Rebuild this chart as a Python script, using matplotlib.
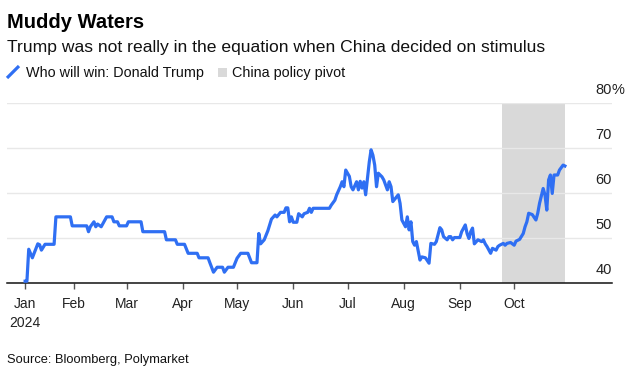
import matplotlib.pyplot as plt
import matplotlib.dates as mdates
import pandas as pd
from matplotlib.lines import Line2D
from matplotlib.patches import Rectangle

plt.rcParams['font.family'] = ['Liberation Sans', 'DejaVu Sans']

# Polymarket odds, "Who will win: Donald Trump" (%), by day offset from 2024-01-01
day_offset = [4, 5, 6, 8, 11, 12, 13, 15, 20, 21, 29, 30, 38, 39, 40, 42, 43, 44, 46, 49,
              52, 53, 55, 56, 60, 61, 68, 69, 81, 82, 87, 88, 92, 94, 99, 100, 105, 106, 108, 110,
              113, 114, 116, 119, 121, 123, 127, 129, 132, 133, 134, 136, 138, 140, 142, 143, 145, 147, 148, 149,
              150, 151, 152, 154, 155, 157, 158, 160, 161, 162, 163, 172, 173, 175, 176, 178, 179, 180, 181, 183,
              184, 185, 187, 188, 189, 190, 191, 192, 194, 195, 196, 197, 198, 199, 201, 202, 204, 205, 206, 207,
              210, 211, 212, 214, 215, 216, 217, 218, 219, 220, 222, 223, 225, 227, 228, 230, 231, 233, 234, 235,
              237, 238, 239, 240, 241, 244, 245, 247, 248, 249, 250, 251, 252, 254, 256, 257, 258, 259, 261, 262,
              264, 265, 266, 268, 269, 270, 272, 274, 275, 277, 279, 280, 281, 282, 284, 286, 287, 288, 290, 291,
              292, 293, 294, 295, 296, 298, 299, 301, 302]
trump = [40.4, 40.4, 47.5, 45.6, 48.7, 48.5, 47.3, 48.6, 48.6, 54.7, 54.7, 52.7, 52.7, 51.4, 52.5, 53.6, 52.5, 53.1, 52.5, 54.7,
         54.7, 53.6, 53.6, 52.7, 52.7, 53.6, 53.6, 51.4, 51.4, 49.6, 49.6, 48.6, 48.6, 46.6, 46.6, 45.6, 45.6, 44.5, 42.4, 43.5,
         43.5, 42.4, 43.5, 43.5, 45.5, 46.6, 46.6, 44.5, 44.5, 51.0, 48.7, 49.6, 51.6, 54.2, 55.1, 54.7, 55.7, 55.7, 56.7, 56.7,
         53.6, 54.7, 53.5, 53.5, 55.4, 54.7, 55.4, 55.7, 56.6, 55.7, 56.6, 56.6, 57.3, 58.4, 59.6, 61.4, 62.5, 61.4, 65.1, 63.7,
         61.4, 60.7, 62.5, 60.7, 62.6, 61.1, 62.5, 59.6, 66.9, 69.6, 68.4, 66.2, 61.4, 64.4, 63.6, 62.9, 60.7, 62.5, 61.4, 58.1,
         59.6, 57.7, 54.0, 52.5, 54.7, 51.8, 53.6, 49.2, 48.4, 49.2, 45.1, 45.8, 45.6, 44.4, 48.8, 48.6, 49.2, 52.3, 51.8, 50.3,
         49.6, 50.3, 50.3, 49.6, 50.1, 50.1, 51.4, 52.9, 51.0, 49.9, 51.4, 52.2, 48.7, 49.6, 49.2, 49.6, 48.7, 48.1, 46.6, 47.7,
         47.3, 48.1, 48.4, 48.8, 48.4, 48.8, 49.0, 48.4, 49.3, 49.7, 51.0, 52.5, 53.6, 55.5, 55.2, 54.0, 55.5, 57.7, 61.0, 59.6,
         56.2, 62.9, 64.0, 59.9, 64.0, 64.0, 65.1, 66.2, 66.0]

pivot_start = '2024-09-24'
pivot_end = '2024-10-29'

tick_dates = ['2024-01-05', '2024-02-01', '2024-03-01', '2024-04-01', '2024-05-01',
              '2024-06-01', '2024-07-01', '2024-08-01', '2024-09-01', '2024-10-01']
tick_labels = ['Jan\n2024', 'Feb', 'Mar', 'Apr', 'May', 'Jun', 'Jul', 'Aug', 'Sep', 'Oct']
y_ticks = [40, 50, 60, 70, 80]

dates = pd.Timestamp('2024-01-01') + pd.to_timedelta(day_offset, unit='D')

W, H = 632, 384
fig = plt.figure(figsize=(W / 100, H / 100), dpi=100)
ax = fig.add_axes([7 / W, 101 / H, 605 / W, 180 / H])

blue = '#2f6ff3'
ax.axvspan(pd.Timestamp(pivot_start), pd.Timestamp(pivot_end), color='#d9d9d9', lw=0, zorder=0)
ax.plot(dates, trump, color=blue, lw=2.3, solid_joinstyle='round', zorder=3, clip_on=False)

ax.set_ylim(40, 80)
ax.set_xlim(pd.Timestamp('2023-12-26'), pd.Timestamp('2024-11-24'))
ax.set_yticks(y_ticks)
ax.yaxis.grid(True, color='#e8e8e8', lw=1, zorder=1)
ax.tick_params(axis='y', length=0, labelleft=False)
for s in ['left', 'right', 'top']:
    ax.spines[s].set_visible(False)
ax.spines['bottom'].set_color('#111111')
ax.spines['bottom'].set_linewidth(1.1)

ax.set_xticks([pd.Timestamp(d) for d in tick_dates])
ax.set_xticklabels(tick_labels, fontsize=10, color='#222222', linespacing=1.45)
ax.tick_params(axis='x', length=4, width=1, color='#555555', pad=6)

for v in y_ticks:
    ax.annotate(str(v), xy=(1, v), xycoords=('axes fraction', 'data'), xytext=(0, 6.5),
                textcoords='offset points', ha='right', va='baseline', fontsize=10.5, color='#222222')
ax.annotate('%', xy=(1, 80), xycoords=('axes fraction', 'data'), xytext=(0, 6.5),
            textcoords='offset points', ha='left', va='baseline', fontsize=10.5, color='#222222')

fig.text(7 / W, 1 - 28 / H, 'Muddy Waters', fontsize=14.5, fontweight='bold', va='baseline', color='#000000')
fig.text(7 / W, 1 - 52 / H, 'Trump was not really in the equation when China decided on stimulus',
         fontsize=12.6, va='baseline', color='#111111')

# legend
fig.add_artist(Line2D([7 / W, 19 / W], [1 - 78 / H, 1 - 66 / H], color=blue, lw=2.3,
                      solid_capstyle='butt', transform=fig.transFigure))
fig.text(26 / W, 1 - 77 / H, 'Who will win: Donald Trump', fontsize=10.4, va='baseline', color='#111111')
fig.add_artist(Rectangle((218 / W, 1 - 77 / H), 9 / W, 9 / H, color='#d9d9d9', lw=0,
                         transform=fig.transFigure))
fig.text(232 / W, 1 - 77 / H, 'China policy pivot', fontsize=10.4, va='baseline', color='#111111')

fig.text(7 / W, 1 - 363 / H, 'Source: Bloomberg, Polymarket', fontsize=9.3, va='baseline', color='#111111')

fig.savefig('out.png', dpi=100)
